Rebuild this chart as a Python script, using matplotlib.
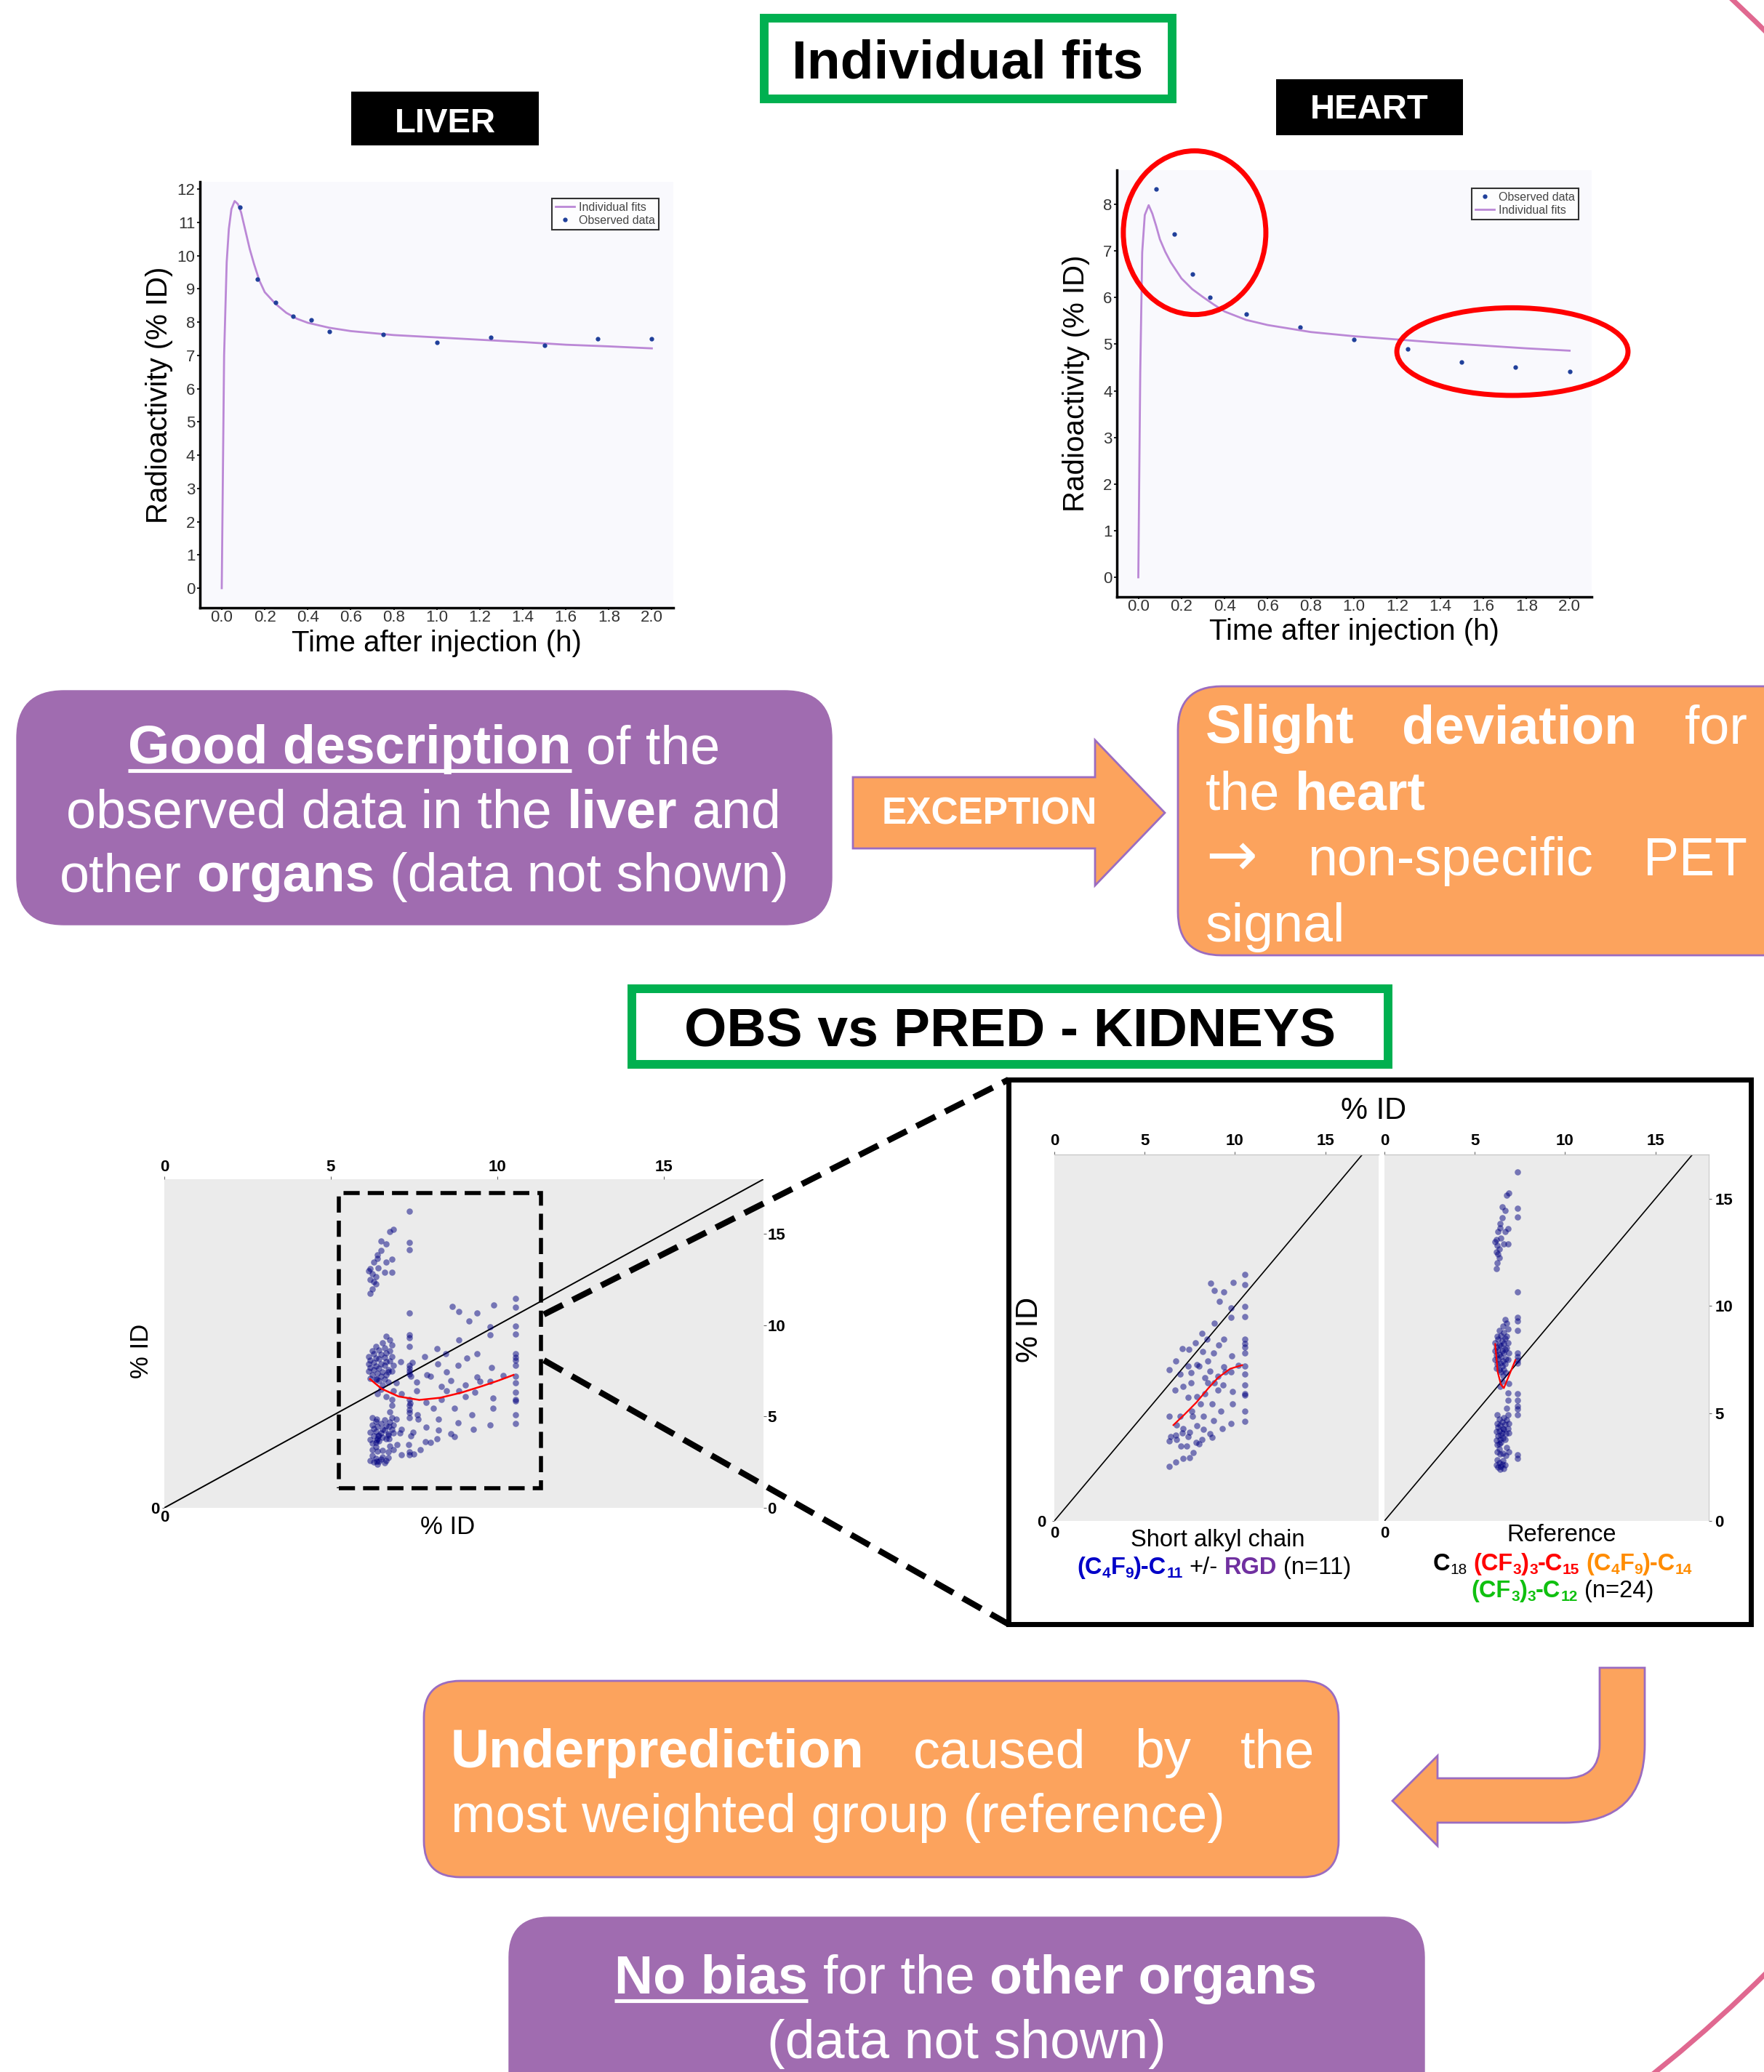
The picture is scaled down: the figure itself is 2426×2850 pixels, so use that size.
import matplotlib
matplotlib.use("Agg")
import matplotlib.pyplot as plt
from matplotlib.patches import FancyBboxPatch, Rectangle, Ellipse, Circle, Polygon, PathPatch
from matplotlib.path import Path

plt.rcParams["font.family"] = ["Liberation Sans", "DejaVu Sans"]

time_ticks = [0.0, 0.2, 0.4, 0.6, 0.8, 1.0, 1.2, 1.4, 1.6, 1.8, 2.0]

# liver, individual fit
liver_obs_t = [0.083, 0.167, 0.25, 0.333, 0.417, 0.5, 0.75, 1.0, 1.25, 1.5, 1.75, 2.0]
liver_obs_y = [11.45, 9.30, 8.60, 8.17, 8.06, 7.71, 7.63, 7.39, 7.55, 7.31, 7.50, 7.50]
liver_fit_t = [0.0, 0.005, 0.011, 0.023, 0.033, 0.045, 0.06, 0.075, 0.09, 0.11, 0.13, 0.15,
               0.175, 0.2, 0.25, 0.3, 0.35, 0.4, 0.5, 0.6, 0.8, 1.0, 1.2, 1.4, 1.6, 1.8, 2.0]
liver_fit_y = [0.0, 3.2, 7.0, 9.8, 10.8, 11.4, 11.64, 11.55, 11.3, 10.75, 10.2, 9.75,
               9.25, 8.9, 8.55, 8.28, 8.1, 7.98, 7.83, 7.73, 7.61, 7.54, 7.47, 7.40, 7.32, 7.27, 7.21]

# heart, individual fit
heart_obs_t = [0.083, 0.167, 0.25, 0.333, 0.5, 0.75, 1.0, 1.25, 1.5, 1.75, 2.0]
heart_obs_y = [8.33, 7.36, 6.51, 6.01, 5.64, 5.37, 5.10, 4.90, 4.61, 4.51, 4.41]
heart_fit_t = [0.0, 0.004, 0.009, 0.018, 0.03, 0.048, 0.065, 0.083, 0.1, 0.125, 0.15, 0.2,
               0.25, 0.3, 0.35, 0.4, 0.5, 0.6, 0.8, 1.0, 1.2, 1.4, 1.6, 1.8, 2.0]
heart_fit_y = [0.0, 2.0, 4.4, 6.97, 7.77, 7.98, 7.8, 7.53, 7.25, 6.98, 6.76, 6.41,
               6.18, 6.01, 5.85, 5.70, 5.52, 5.41, 5.26, 5.17, 5.10, 5.03, 4.97, 4.91, 4.86]

# kidneys, observed vs predicted - short alkyl chain group
short_x = [10.56, 10.56, 9.89, 8.64, 8.85, 9.39, 9.15, 9.79, 10.56, 9.79, 8.85, 10.56, 9.39, 10.56,
           10.56, 10.56, 10.56, 8.19, 7.81, 7.09, 7.44, 6.37, 6.72, 9.09, 8.45, 8.21, 9.84, 8.83,
           7.89, 7.41, 6.96, 7.57, 8.00, 9.39, 8.48, 8.61, 9.04, 9.79, 10.19, 10.56, 10.56, 10.56,
           10.56, 10.56, 10.56, 10.56, 9.87, 9.87, 9.79, 9.33, 9.23, 8.72, 8.32, 7.87, 7.60, 7.12,
           7.39, 6.96, 6.37, 6.75, 7.12, 7.63, 8.24, 8.83, 9.28, 8.72, 8.24, 7.87, 7.47, 7.07,
           6.72, 6.37, 6.43, 6.75, 7.41, 7.84, 8.19, 8.61, 6.99, 7.33, 7.68, 8.00, 6.72, 7.12,
           7.49, 6.37, 8.85, 8.32, 9.47, 9.04, 7.57, 8.08, 8.48, 6.67]
short_y = [11.48, 10.98, 11.10, 11.05, 10.74, 10.66, 10.23, 9.92, 9.97, 9.46, 9.21, 9.51, 8.45, 8.45,
           8.26, 8.07, 7.82, 8.72, 8.28, 8.02, 7.98, 7.05, 7.44, 8.20, 8.45, 7.87, 7.69, 7.80,
           7.28, 7.20, 6.84, 6.89, 7.20, 7.16, 7.44, 6.98, 6.72, 6.92, 7.25, 7.20, 6.84, 6.34,
           5.93, 5.85, 5.11, 4.62, 6.02, 5.44, 4.54, 6.34, 5.11, 5.44, 5.93, 5.77, 5.11, 6.26,
           5.74, 4.87, 4.87, 4.46, 4.30, 4.87, 4.87, 4.66, 4.30, 3.89, 4.25, 4.43, 4.13, 4.10,
           4.00, 3.72, 3.93, 3.80, 3.93, 3.64, 3.80, 4.05, 3.48, 3.48, 3.18, 3.59, 2.74, 2.90,
           2.93, 2.54, 6.43, 6.66, 6.92, 6.10, 6.43, 5.44, 6.43, 6.10]
short_fit_x = [6.59, 7.2, 7.87, 8.53, 9.07, 9.73, 10.4]
short_fit_y = [4.46, 4.95, 5.52, 6.18, 6.67, 7.08, 7.25]

# kidneys, observed vs predicted - reference group
ref_x = [6.19, 6.24, 6.35, 6.19, 6.35, 6.13, 6.24, 6.43, 6.61, 6.83, 6.29, 6.40, 6.67, 6.83,
         6.40, 6.51, 6.67, 6.51, 6.77, 6.88, 6.19, 6.29, 7.36, 7.36, 7.36,
         6.13, 6.19, 6.13, 6.19, 6.13, 6.24, 6.19, 6.29, 6.35, 6.29, 6.35, 6.29, 6.40, 6.35,
         6.45, 6.51, 6.45, 6.51, 6.45, 6.56, 6.51, 6.45, 6.61, 6.67, 6.61, 6.67, 6.61, 6.72,
         6.67, 6.61, 6.77, 6.67, 6.83, 6.77, 6.83, 6.77, 6.88, 6.83, 6.56, 6.40, 6.51, 6.72,
         6.24, 6.56, 6.35, 6.88, 6.83, 6.83, 6.77,
         7.36, 7.36, 7.36, 7.36, 7.36, 7.36, 7.36, 7.36, 7.36, 7.36, 7.36, 7.36, 7.36, 7.36, 7.36,
         6.24, 6.35, 6.24, 6.29, 6.19, 6.29, 6.19, 6.24, 6.35, 6.40, 6.45, 6.40, 6.35, 6.51,
         6.56, 6.51, 6.56, 6.45, 6.61, 6.67, 6.61, 6.72, 6.67, 6.77, 6.83, 6.88, 6.83, 6.88,
         6.24, 6.40, 6.56, 6.72, 6.88, 6.19, 6.29, 6.35, 6.45, 6.51, 6.61, 6.67, 6.40, 6.24,
         6.56, 6.77, 6.35]
ref_y = [11.75, 12.00, 12.25, 12.50, 12.66, 12.98, 12.82, 13.15, 12.90, 12.90, 13.48, 13.64, 13.48,
         13.61, 13.84, 14.10, 14.46, 14.62, 15.15, 15.25, 13.10, 12.40, 16.23, 14.54, 14.13,
         8.30, 8.10, 7.90, 7.70, 7.50, 7.30, 7.10, 8.45, 8.20, 7.95, 7.75, 7.55, 7.35, 7.05,
         8.64, 8.40, 8.15, 7.90, 7.65, 7.45, 7.20, 6.95, 8.75, 8.50, 8.25, 8.00, 7.80, 7.55,
         7.30, 7.05, 9.21, 9.38, 8.92, 8.60, 8.30, 8.05, 7.80, 7.50, 6.75, 6.26, 6.50, 6.90,
         8.60, 9.05, 8.85, 6.40, 5.95, 5.60, 5.25,
         10.66, 9.46, 9.30, 8.85, 7.82, 7.66, 7.49, 7.33, 5.93, 5.61, 5.36, 5.20, 4.95, 3.07, 2.90,
         4.95, 4.75, 4.55, 4.35, 4.15, 3.95, 3.75, 3.55, 4.20, 4.45, 4.00, 3.80, 3.60, 4.60,
         4.30, 4.10, 3.85, 3.65, 4.80, 4.50, 4.25, 4.05, 3.80, 4.70, 4.95, 4.55, 4.30, 4.10,
         3.20, 3.10, 3.15, 3.05, 3.20, 2.60, 2.50, 2.70, 2.55, 2.65, 2.45, 2.60, 2.40, 2.85,
         2.80, 3.40, 3.35]
ref_fit_x = [6.13, 6.27, 6.45, 6.61, 7.25]
ref_fit_y = [8.23, 6.92, 6.34, 6.18, 7.49]

# kidneys, all groups together
all_fit_x = [6.18, 6.53, 7.04, 7.66, 8.29, 8.92, 9.55, 10.05, 10.49]
all_fit_y = [7.05, 6.52, 6.10, 5.91, 6.03, 6.31, 6.67, 6.98, 7.28]
kid_ticks = [0, 5, 10, 15]

# ---------------- figure ----------------
W, H = 2426, 2850
fig = plt.figure(figsize=(W / 100, H / 100), dpi=100)
fig.patch.set_facecolor("white")

FIT = "#bb88d6"
OBS = "#1f3f9a"
PURPLE = "#a06cb0"
ORANGE = "#fca35d"
EDGE = "#9b6cc0"
GREEN = "#00b050"
DOT = "#000080"


def px_axes(x0, y0, x1, y1, **kw):
    # axes from pixel box (top-left origin)
    return fig.add_axes([x0 / W, 1 - y1 / H, (x1 - x0) / W, (y1 - y0) / H], **kw)


def pk_style(ax, xlim, ylim, yticks):
    ax.set_facecolor("#f9f9fd")
    ax.set_xlim(*xlim)
    ax.set_ylim(*ylim)
    for s in ["top", "right"]:
        ax.spines[s].set_visible(False)
    for s in ["left", "bottom"]:
        ax.spines[s].set_linewidth(2.5)
    ax.set_xticks(time_ticks, [f"{t:.1f}" for t in time_ticks])
    ax.set_yticks(yticks)
    ax.tick_params(labelsize=16, labelcolor="#333333", width=1.2)
    ax.tick_params(axis="x", length=2, pad=0)
    ax.tick_params(axis="y", length=3, pad=1.5)
    ax.set_xlabel("Time after injection (h)", fontsize=29)
    ax.set_ylabel("Radioactivity (% ID)", fontsize=29)
    ax.xaxis.label.set_verticalalignment("center")


# liver
ax1 = px_axes(274.5, 250, 926, 836)
pk_style(ax1, (-0.103, 2.10), (-0.59, 12.22), range(13))
ax1.plot(liver_fit_t, liver_fit_y, color=FIT, lw=2, label="Individual fits")
ax1.plot(liver_obs_t, liver_obs_y, "o", ms=3.5, color=OBS, label="Observed data")
leg = ax1.legend(loc="upper right", bbox_to_anchor=(0.969, 0.961), fancybox=False,
                 edgecolor="black", fontsize=11.5, handlelength=1.6, borderpad=0.3,
                 labelspacing=0.2, handletextpad=0.4, borderaxespad=0, numpoints=1)
leg.get_frame().set_linewidth(1.5)
for t in leg.get_texts():
    t.set_color("#444444")
ax1.yaxis.set_label_coords(-0.056, 0.5)
ax1.xaxis.set_label_coords(0.5, -0.084)

# heart
ax2 = px_axes(1536, 233.5, 2189, 821)
pk_style(ax2, (-0.0995, 2.1025), (-0.42, 8.74), range(9))
ax2.plot(heart_obs_t, heart_obs_y, "o", ms=3.5, color=OBS, label="Observed data")
ax2.plot(heart_fit_t, heart_fit_y, color=FIT, lw=2, label="Individual fits")
leg = ax2.legend(loc="upper right", bbox_to_anchor=(0.972, 0.957), fancybox=False,
                 edgecolor="black", fontsize=11.5, handlelength=1.6, borderpad=0.3,
                 labelspacing=0.2, handletextpad=0.4, borderaxespad=0, numpoints=1)
leg.get_frame().set_linewidth(1.5)
for t in leg.get_texts():
    t.set_color("#444444")
ax2.yaxis.set_label_coords(-0.057, 0.5)
ax2.xaxis.set_label_coords(0.5, -0.081)
ax2.add_patch(Ellipse((0.261, 7.39), 0.661, 3.51, fill=False, ec="red", lw=5, clip_on=False, zorder=5))
ax2.add_patch(Ellipse((1.735, 4.84), 1.072, 1.88, fill=False, ec="red", lw=5, clip_on=False, zorder=5))


def kid_style(ax, xmax, ymax, show_top_line, right_lab, left_zero, pad_top, pad_right, pad_bot, pad_left):
    ax.set_facecolor("#ebebeb")
    ax.set_xlim(0, xmax)
    ax.set_ylim(0, ymax)
    for s in ax.spines.values():
        s.set_visible(False)
    if show_top_line:
        ax.spines["top"].set_visible(True)
        ax.spines["top"].set_color("#c8c8c8")
        ax.spines["top"].set_linewidth(1)
    ax.xaxis.tick_top()
    ax.set_xticks(kid_ticks, [str(v) for v in kid_ticks], fontsize=16, fontweight="bold")
    ax.tick_params(axis="x", length=3, pad=pad_top, color="#666666")
    if right_lab:
        ax.yaxis.tick_right()
        ax.set_yticks(kid_ticks, [str(v) for v in kid_ticks], fontsize=16, fontweight="bold")
        ax.tick_params(axis="y", length=3, pad=pad_right, color="#666666")
    else:
        ax.set_yticks([])
    sx = ax.secondary_xaxis("bottom")
    sx.set_xticks([0], ["0"], fontsize=16, fontweight="bold")
    sx.tick_params(length=0, pad=pad_bot)
    sx.spines["bottom"].set_visible(False)
    if left_zero:
        sy = ax.secondary_yaxis("left")
        sy.set_yticks([0], ["0"], fontsize=16, fontweight="bold")
        sy.tick_params(length=2, pad=pad_left, color="#666666")
        sy.spines["left"].set_visible(False)


# kidneys, all data
kx = px_axes(226, 1622, 1050, 2074)
kid_style(kx, 18, 18, False, True, True, 1, 1, 2, 3)
kx.plot([0, 18], [0, 18], color="black", lw=1.4)
kx.scatter(short_x + ref_x, short_y + ref_y, s=38, color=DOT, alpha=0.5, lw=0, zorder=3)
kx.plot(all_fit_x, all_fit_y, color="red", lw=1.8, zorder=4)
kx.add_patch(Rectangle((5.25, 1.08), 6.06, 16.17, fill=False, ec="black", lw=4,
                       ls=(0, (4, 2)), zorder=5))

# kidneys, split by group
kL = px_axes(1450, 1588, 1896, 2092)
kid_style(kL, 17.95, 17.05, True, False, True, 3, 3, 5, 6)
kL.plot([0, 17.95], [0, 17.95], color="black", lw=1.2)
kL.scatter(short_x, short_y, s=38, color=DOT, alpha=0.5, lw=0, zorder=3)
kL.plot(short_fit_x, short_fit_y, color="red", lw=1.6, zorder=4)

kR = px_axes(1904, 1588, 2350, 2092)
kid_style(kR, 17.95, 17.05, True, True, False, 3, 3, 5, 6)
kR.spines["right"].set_visible(True)
kR.spines["right"].set_color("#c8c8c8")
kR.plot([0, 17.95], [0, 17.95], color="black", lw=1.2)
kR.scatter(ref_x, ref_y, s=38, color=DOT, alpha=0.5, lw=0, zorder=3)
kR.plot(ref_fit_x, ref_fit_y, color="red", lw=1.6, zorder=4)

# ---------------- overlay for boxes, arrows and text (pixel coords) ----------------
ov = fig.add_axes([0, 0, 1, 1], zorder=10)
ov.set_xlim(0, W)
ov.set_ylim(H, 0)
ov.axis("off")
ov.patch.set_alpha(0)

r = fig.canvas.get_renderer()


def em(size):
    return size * 100 / 72


def seg_font(st):
    return ["DejaVu Sans"] if "a" in st else ["Liberation Sans", "DejaVu Sans"]


def text_w(t, size, st):
    tx = ov.text(0, 0, t, fontsize=size, fontweight="bold" if "b" in st else "normal",
                 family=seg_font(st))
    w = tx.get_window_extent(r).width
    tx.remove()
    return w


def rich(x, y, segs, size, align="center", right=None, color="white"):
    items = []
    for seg in segs:
        t, st = seg[0], seg[1]
        c = seg[2] if len(seg) > 2 else color
        lead = t.startswith(" ")
        t = t.strip(" ")
        fs = size * 0.64 if "s" in st else (size * 1.15 if "a" in st else size)
        items.append((t, st, c, lead, fs, text_w(t, fs, st)))
    sp = 0.278 * em(size)
    ngap = sum(1 for i in items if i[3])
    total = sum(i[5] for i in items) + sp * ngap
    cur = x - total / 2 if align == "center" else x
    extra = (right - x - total) / ngap if (right is not None and ngap) else 0
    for t, st, c, lead, fs, w in items:
        if lead:
            cur += sp + extra
        yy = y + (0.14 * em(size) if "s" in st else 0)
        ov.text(cur, yy, t, fontsize=fs, fontweight="bold" if "b" in st else "normal",
                color=c, ha="left", va="baseline", family=seg_font(st))
        if "u" in st:
            uy = y + 0.13 * em(size)
            ov.plot([cur, cur + w], [uy, uy], color=c, lw=0.07 * em(size) * 0.72,
                    solid_capstyle="butt")
        cur += w


# big pink ring in the background
ov.add_patch(Circle((1098, 1379), 1885, fill=False, ec="#e06890", lw=5))

# title boxes
ov.add_patch(Rectangle((1051, 25), 561, 111, fc="white", ec=GREEN, lw=8.6))
ov.text(1331, 88, "Individual fits", fontsize=54, fontweight="bold", ha="center", va="center")
ov.add_patch(Rectangle((869, 1360), 1040, 104, fc="white", ec=GREEN, lw=8.6))
ov.text(1389, 1419, "OBS vs PRED - KIDNEYS", fontsize=54, fontweight="bold", ha="center", va="center")

ov.add_patch(Rectangle((483, 126), 258, 74, fc="black"))
ov.text(612, 170, "LIVER", fontsize=34, fontweight="bold", color="white", ha="center", va="center")
ov.add_patch(Rectangle((1755, 109), 257, 77, fc="black"))
ov.text(1883, 151, "HEART", fontsize=34, fontweight="bold", color="white", ha="center", va="center")

# purple box, liver
ov.add_patch(FancyBboxPatch((23, 950), 1121, 322, boxstyle="round,pad=0,rounding_size=65",
                            fc=PURPLE, ec=PURPLE, lw=1))
rich(583, 1050, [("Good description", "bu"), (" of the", "")], 53)
rich(583, 1138, [("observed data in the", ""), (" liver", "b"), (" and", "")], 53)
rich(583, 1226, [("other", ""), (" organs", "b"), (" (data not shown)", "")], 53)

# exception arrow
ov.add_patch(Polygon([(1173, 1069), (1506, 1069), (1506, 1018), (1602, 1118), (1506, 1218),
                      (1506, 1167), (1173, 1167)], closed=True, fc=ORANGE, ec=EDGE, lw=2))
ov.text(1361, 1120, "EXCEPTION", fontsize=37, fontweight="bold", color="white",
        ha="center", va="center")

# orange box, heart
ov.add_patch(FancyBboxPatch((1620, 944), 900, 370, boxstyle="round,pad=0,rounding_size=60",
                            fc=ORANGE, ec=EDGE, lw=2))
rich(1658, 1022, [("Slight", "b"), (" deviation", "b"), (" for", "")], 53, align="left", right=2403)
rich(1658, 1113, [("the", ""), (" heart", "b")], 53, align="left")
rich(1658, 1204, [("\u2192", "a"), (" non-specific", ""), (" PET", "")], 53, align="left", right=2403)
rich(1658, 1295, [("signal", "")], 53, align="left")

# kidney labels
ov.add_patch(Rectangle((1387, 1485), 1021, 749, fill=False, ec="black", lw=5))
ov.plot([748, 1387], [1808, 1485], color="black", lw=6, ls=(0, (3.5, 1.8)))
ov.plot([748, 1387], [1871, 2234], color="black", lw=6, ls=(0, (3.5, 1.8)))
ov.text(1889, 1528, "% ID", fontsize=30, ha="center", va="center")
ov.text(1416, 1829, "% ID", fontsize=30, ha="center", va="center", rotation=90)
ov.text(194, 1858, "% ID", fontsize=25, ha="center", va="center", rotation=90)
ov.text(616, 2101, "% ID", fontsize=25, ha="center", va="center")

BLUE, RGDC, RED, ORG, GRN, K = "#0000c8", "#7030a0", "#ff0000", "#ff8c00", "#10c010", "black"
rich(1675, 2127, [("Short alkyl chain", "")], 23.5, color=K)
rich(1670, 2165, [("(C", "b", BLUE), ("4", "bs", BLUE), ("F", "b", BLUE), ("9", "bs", BLUE),
                  (")-C", "b", BLUE), ("11", "bs", BLUE), (" +/-", "", K), (" RGD", "b", RGDC),
                  (" (n=11)", "", K)], 23.5)
rich(2148, 2120, [("Reference", "")], 23.5, color=K)
rich(2149, 2160, [("C", "b", K), ("18", "s", K), (" (CF", "b", RED), ("3", "bs", RED), (")", "b", RED),
                  ("3", "bs", RED), ("-C", "b", RED), ("15", "bs", RED), (" (C", "b", ORG),
                  ("4", "bs", ORG), ("F", "b", ORG), ("9", "bs", ORG), (")-C", "b", ORG),
                  ("14", "bs", ORG)], 23.5)
rich(2149, 2197, [("(CF", "b", GRN), ("3", "bs", GRN), (")", "b", GRN), ("3", "bs", GRN),
                  ("-C", "b", GRN), ("12", "bs", GRN), (" (n=24)", "", K)], 23.5)

# orange box, underprediction
ov.add_patch(FancyBboxPatch((583, 2312), 1258, 270, boxstyle="round,pad=0,rounding_size=50",
                            fc=ORANGE, ec=EDGE, lw=2))
rich(620, 2431, [("Underprediction", "b"), (" caused", ""), (" by", ""), (" the", "")], 53,
     align="left", right=1808)
rich(620, 2520, [("most weighted group (reference)", "")], 53, align="left")

# u-turn arrow
verts = [(2200, 2294), (2262, 2294), (2262, 2400), (2262, 2507), (2152, 2507), (1977, 2507),
         (1977, 2539), (1915, 2477), (1977, 2415), (1977, 2446), (2152, 2446), (2200, 2446),
         (2200, 2400), (2200, 2294)]
codes = [Path.MOVETO, Path.LINETO, Path.LINETO, Path.CURVE3, Path.CURVE3, Path.LINETO,
         Path.LINETO, Path.LINETO, Path.LINETO, Path.LINETO, Path.LINETO, Path.CURVE3,
         Path.CURVE3, Path.CLOSEPOLY]
ov.add_patch(PathPatch(Path(verts, codes), fc=ORANGE, ec=EDGE, lw=2))

# purple box, other organs
ov.add_patch(FancyBboxPatch((700, 2637), 1259, 320, boxstyle="round,pad=0,rounding_size=55",
                            fc=PURPLE, ec=PURPLE, lw=1))
rich(1328, 2742, [("No bias", "bu"), (" for the", ""), (" other organs", "b")], 53)
rich(1329, 2831, [("(data not shown)", "")], 53)

fig.savefig("out.png", dpi=100, facecolor="white")
